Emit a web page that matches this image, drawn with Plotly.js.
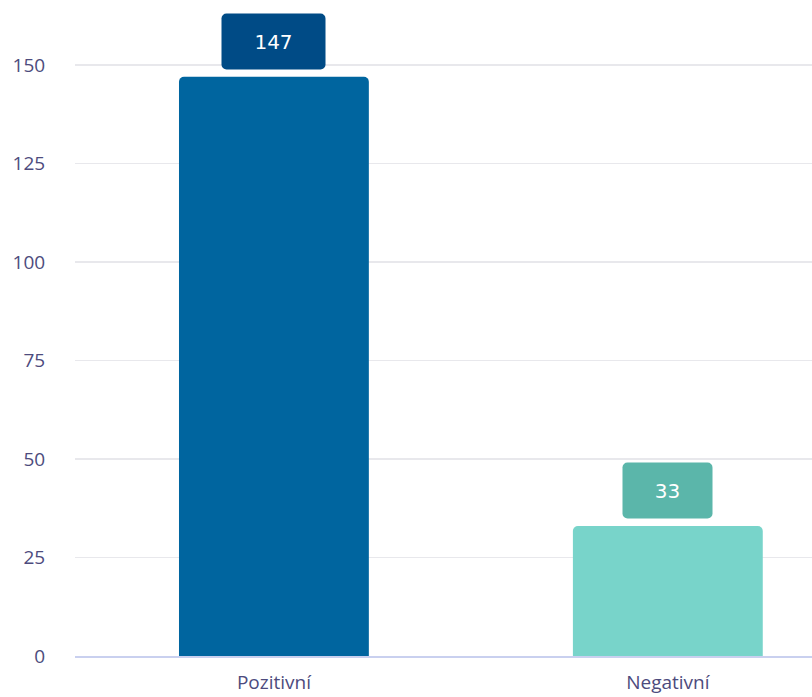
<!DOCTYPE html>
<html>
<head>
<meta charset="utf-8">
<script src="https://cdn.plot.ly/plotly-3.0.1.min.js"></script>
<style>html,body{margin:0;padding:0;background:#fff;}#chart{width:812px;height:697px;}</style>
</head>
<body>
<div id="chart"></div>
<script>
const categories = ["Pozitivní", "Negativní"];
const values = [147, 33];
const barColors = ["#00659f", "#78d4ca"];
const labelColors = ["#004b86", "#5bb6aa"];
const yTicks = [0, 25, 50, 75, 100, 125, 150];

const trace = {
  type: "bar",
  x: categories,
  y: values,
  width: 0.482,
  marker: { color: barColors, cornerradius: 5 },
  hoverinfo: "skip"
};

const annotations = categories.map((c, i) => ({
  x: c,
  y: values[i],
  xref: "x",
  yref: "y",
  text: String(values[i]),
  showarrow: false,
  yanchor: "bottom",
  yshift: 7,
  width: 61 + 14 * String(values[i]).length,
  height: 55,
  borderpad: 0,
  bgcolor: labelColors[i],
  font: { family: "DejaVu Sans", size: 20, color: "#ffffff" }
}));

const layout = {
  width: 812,
  height: 697,
  margin: { l: 75, r: 0, t: 0, b: 41 },
  paper_bgcolor: "#ffffff",
  plot_bgcolor: "#ffffff",
  showlegend: false,
  font: { family: "'Open Sans', 'Noto Sans', sans-serif", color: "#4d4b7d", size: 19 },
  xaxis: {
    type: "category",
    range: [-0.505, 1.366],
    showgrid: false,
    showline: true,
    linecolor: "#c9d0ef",
    linewidth: 2,
    ticks: "outside",
    ticklen: 8,
    tickcolor: "rgba(0,0,0,0)",
    tickfont: { size: 19, color: "#4d4b7d" },
    fixedrange: true
  },
  yaxis: {
    range: [0, 166.5],
    tickvals: yTicks,
    ticktext: yTicks.map(String),
    showgrid: true,
    gridcolor: "#e8e8ec",
    gridwidth: 1.5,
    zeroline: false,
    showline: false,
    ticks: "outside",
    ticklen: 25,
    tickcolor: "rgba(0,0,0,0)",
    tickfont: { size: 19, color: "#4d4b7d" },
    fixedrange: true
  },
  annotations: annotations
};

Plotly.newPlot("chart", [trace], layout, { displayModeBar: false, staticPlot: true }).then(() => {
  document.querySelectorAll(".annotation rect.bg").forEach(r => {
    r.setAttribute("rx", 5);
    r.setAttribute("ry", 5);
  });
});
</script>
</body>
</html>
